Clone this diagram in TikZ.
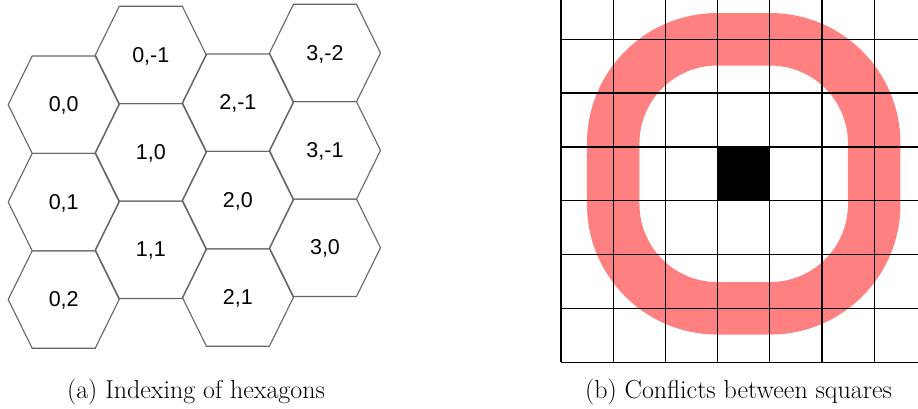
\documentclass[tikz,border=0pt]{standalone}
\usepackage{fontspec}
\newfontfamily\hexfont{Liberation Sans}
\usepackage{tikz}
\usetikzlibrary{positioning}

\tikzset{
  hexline/.style={draw=black!60, line width=1.1pt, line join=miter},
  hexlabel/.style={font=\hexfont\fontsize{21.5}{25}\selectfont, inner sep=0pt},
  gridline/.style={draw=black, line width=1.3pt},
  conflict/.style={draw=red!50, line width=52.5pt, rounded corners=104pt},
  caption/.style={font=\fontsize{26}{30}\selectfont, anchor=base, inner sep=0pt}
}

\begin{document}
\begin{tikzpicture}[x=1pt, y=-1pt]
  \useasboundingbox (0,0) rectangle (918,409);
  % hexagons with offset indices
  \foreach \c/\k/\lab [count=\i] in {
    0/0/{0,0}, 0/1/{0,1}, 0/2/{0,2},
    1/-1/{0,-1}, 1/0/{1,0}, 1/1/{1,1},
    2/-1/{2,-1}, 2/0/{2,0}, 2/1/{2,1},
    3/-2/{3,-2}, 3/-1/{3,-1}, 3/0/{3,0}}
  {
    \pgfmathsetmacro\hx{63.7+87.1*\c}
    \pgfmathsetmacro\hy{104.7+97.4*\k+47.7*\c}
    \begin{scope}[shift={(\hx,\hy)}]
      \draw[hexline] (-55.5,0) -- (-31.5,-48.7) -- (31.5,-48.7) -- (55.5,0)
        -- (31.5,48.7) -- (-31.5,48.7) -- cycle;
      \node[hexlabel] (hex\i) at (0,1) {\lab};
    \end{scope}
  }
  % conflict ring around the occupied square
  \draw[conflict] (613.2,39.3) rectangle (874.2,308.3);
  % occupied square
  \fill[black] (717.6,146.7) rectangle (769.8,200.5);
  % square grid
  \foreach \i in {0,...,6}{
    \draw[gridline] ({561+52.2*\i},0) -- ({561+52.2*\i},362.3);
  }
  \foreach \j in {0,...,6}{
    \draw[gridline] (561,{362.3-53.83*\j}) -- (918,{362.3-53.83*\j});
  }
  % captions
  \node[caption] (capa) at (196,398) {(a) Indexing of hexagons};
  \node[caption] (capb) at (738.5,398) {(b) Conflicts between squares};
\end{tikzpicture}
\end{document}
